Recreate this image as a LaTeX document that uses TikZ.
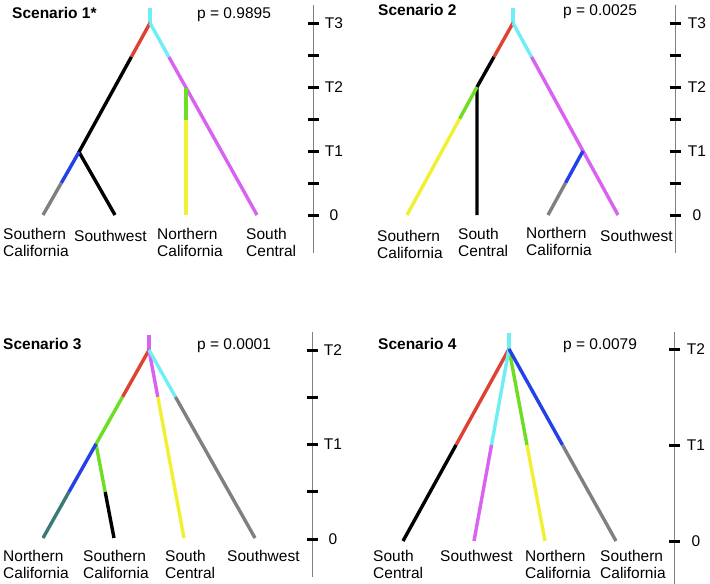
\documentclass[tikz,border=0pt]{standalone}
\usepackage{fontspec}
\setmainfont{Liberation Sans}
\definecolor{brred}{RGB}{222,66,50}
\definecolor{brcyan}{RGB}{112,238,246}
\definecolor{brpink}{RGB}{218,98,240}
\definecolor{brgreen}{RGB}{110,222,34}
\definecolor{bryellow}{RGB}{242,240,50}
\definecolor{brblue}{RGB}{36,64,232}
\definecolor{brgrey}{RGB}{128,128,128}
\definecolor{brteal}{RGB}{58,122,120}
\begin{document}
\begin{tikzpicture}[x=1pt,y=-1pt,
  br/.style={line width=3.4pt},
  axis/.style={draw=gray,line width=0.9pt},
  axtick/.style={line width=3pt,black},
  lab/.style={anchor=north west,align=left,inner sep=0pt,font=\fontsize{15.5}{17}\selectfont},
  title/.style={anchor=base west,inner sep=0pt,font=\fontsize{15.5}{17}\selectfont\bfseries},
  pval/.style={anchor=base west,inner sep=0pt,font=\fontsize{15.5}{17}\selectfont},
  tlab/.style={inner sep=0pt,font=\fontsize{15.5}{17}\selectfont}]
\useasboundingbox[fill=white] (0,0) rectangle (710,584);

% Scenario 1
\node[title] (t1) at (12,18) {Scenario 1*};
\node[pval] (p1) at (197,18) {p = 0.9895};
\coordinate (s1top) at (150,8);
\coordinate (s1root) at (150,23);
\coordinate (s1a) at (131.3,57);
\coordinate (s1n) at (79,152);
\coordinate (s1b) at (61.3,183);
\coordinate (s1c) at (168.9,57);
\coordinate (s1g) at (186,88);
\coordinate (s1h) at (186,120);
\coordinate (s1l1) at (43,215);
\coordinate (s1l2) at (115,215);
\coordinate (s1l3) at (186,215);
\coordinate (s1l4) at (257,215);
\draw[br,brcyan] (s1top) -- (s1root);
\draw[br,brred] (s1root) -- (s1a);
\draw[br,black] (s1a) -- (s1n) -- (s1l2);
\draw[br,brblue] (s1n) -- (s1b);
\draw[br,brgrey] (s1b) -- (s1l1);
\draw[br,brcyan] (s1root) -- (s1c);
\draw[br,brpink] (s1c) -- (s1l4);
\draw[br,brgreen] (s1g) -- (s1h);
\draw[br,bryellow] (s1h) -- (s1l3);
\node[lab] (s1x1) at (3,228) {Southern\\California};
\node[lab] (s1x2) at (74,230) {Southwest};
\node[lab] (s1x3) at (157,228) {Northern\\California};
\node[lab] (s1x4) at (246,228) {South\\Central};
\draw[axis] (313,5) -- (313,253);
\foreach \i/\t in {0/T3,1/,2/T2,3/,4/T1,5/,6/0}{
  \draw[axtick] (308,23+32*\i) -- (319,23+32*\i);
  \node[tlab] at (334,23+32*\i) {\t};
}

% Scenario 2
\node[title] (t2) at (378,15) {Scenario 2};
\node[pval] (p2) at (563,15) {p = 0.0025};
\coordinate (s2top) at (513,8);
\coordinate (s2root) at (513,23);
\coordinate (s2a) at (493.9,57);
\coordinate (s2n) at (477,87);
\coordinate (s2g) at (459.5,119);
\coordinate (s2c) at (531.6,57);
\coordinate (s2m) at (583,151);
\coordinate (s2b) at (565.5,183);
\coordinate (s2l1) at (407,215);
\coordinate (s2l2) at (477,215);
\coordinate (s2l3) at (548,215);
\coordinate (s2l4) at (618,215);
\draw[br,brcyan] (s2top) -- (s2root);
\draw[br,brred] (s2root) -- (s2a);
\draw[br,black] (s2a) -- (s2n) -- (s2l2);
\draw[br,brgreen] (s2n) -- (s2g);
\draw[br,bryellow] (s2g) -- (s2l1);
\draw[br,brcyan] (s2root) -- (s2c);
\draw[br,brpink] (s2c) -- (s2l4);
\draw[br,brblue] (s2m) -- (s2b);
\draw[br,brgrey] (s2b) -- (s2l3);
\node[lab] (s2x1) at (377,230) {Southern\\California};
\node[lab] (s2x2) at (458,228) {South\\Central};
\node[lab] (s2x3) at (526,227) {Northern\\California};
\node[lab] (s2x4) at (600,230) {Southwest};
\draw[axis] (675,5) -- (675,253);
\foreach \i/\t in {0/T3,1/,2/T2,3/,4/T1,5/,6/0}{
  \draw[axtick] (670,23+32*\i) -- (681,23+32*\i);
  \node[tlab] at (697,23+32*\i) {\t};
}

% Scenario 3
\node[title] (t3) at (3,349) {Scenario 3};
\node[pval] (p3) at (197,349) {p = 0.0001};
\coordinate (s3top) at (149,335);
\coordinate (s3root) at (149,350);
\coordinate (s3a) at (122.5,397);
\coordinate (s3n) at (96,444);
\coordinate (s3b) at (68.9,492);
\coordinate (s3g) at (105.2,492);
\coordinate (s3m) at (157.8,397);
\coordinate (s3c) at (175.5,397);
\coordinate (s3l1) at (43,538);
\coordinate (s3l2) at (114,538);
\coordinate (s3l3) at (184,538);
\coordinate (s3l4) at (255,538);
\draw[br,brpink] (s3top) -- (s3root);
\draw[br,brred] (s3root) -- (s3a);
\draw[br,brgreen] (s3a) -- (s3n) -- (s3g);
\draw[br,brblue] (s3n) -- (s3b);
\draw[br,brteal] (s3b) -- (s3l1);
\draw[br,black] (s3g) -- (s3l2);
\draw[br,brpink] (s3root) -- (s3m);
\draw[br,bryellow] (s3m) -- (s3l3);
\draw[br,brcyan] (s3root) -- (s3c);
\draw[br,brgrey] (s3c) -- (s3l4);
\node[lab] (s3x1) at (3,550) {Northern\\California};
\node[lab] (s3x2) at (83,550) {Southern\\California};
\node[lab] (s3x3) at (165,550) {South\\Central};
\node[lab] (s3x4) at (227,550) {Southwest};
\draw[axis] (312,332) -- (312,577);
\foreach \i/\t in {0/T2,1/,2/T1,3/,4/0}{
  \draw[axtick] (307,350+47.25*\i) -- (318,350+47.25*\i);
  \node[tlab] at (333,350+47.25*\i) {\t};
}

% Scenario 4
\node[title] (t4) at (378,349) {Scenario 4};
\node[pval] (p4) at (563,349) {p = 0.0079};
\coordinate (s4top) at (509,333);
\coordinate (s4root) at (509,349);
\coordinate (s4a) at (456,445);
\coordinate (s4b) at (491.5,445);
\coordinate (s4c) at (527,445);
\coordinate (s4d) at (562.5,445);
\coordinate (s4l1) at (403,541);
\coordinate (s4l2) at (474,541);
\coordinate (s4l3) at (545,541);
\coordinate (s4l4) at (616,541);
\draw[br,brcyan] (s4top) -- (s4root);
\draw[br,brred] (s4root) -- (s4a);
\draw[br,black] (s4a) -- (s4l1);
\draw[br,brgreen] (s4root) -- (s4c);
\draw[br,bryellow] (s4c) -- (s4l3);
\draw[br,brcyan] (s4root) -- (s4b);
\draw[br,brpink] (s4b) -- (s4l2);
\draw[br,brblue] (s4root) -- (s4d);
\draw[br,brgrey] (s4d) -- (s4l4);
\node[lab] (s4x1) at (373,550) {South\\Central};
\node[lab] (s4x2) at (440,550) {Southwest};
\node[lab] (s4x3) at (525,550) {Northern\\California};
\node[lab] (s4x4) at (600,550) {Southern\\California};
\draw[axis] (674,332) -- (674,584);
\foreach \y/\t in {349/T2,445/T1,541/0}{
  \draw[axtick] (669,\y) -- (680,\y);
  \node[tlab] at (696,\y) {\t};
}
\end{tikzpicture}
\end{document}
